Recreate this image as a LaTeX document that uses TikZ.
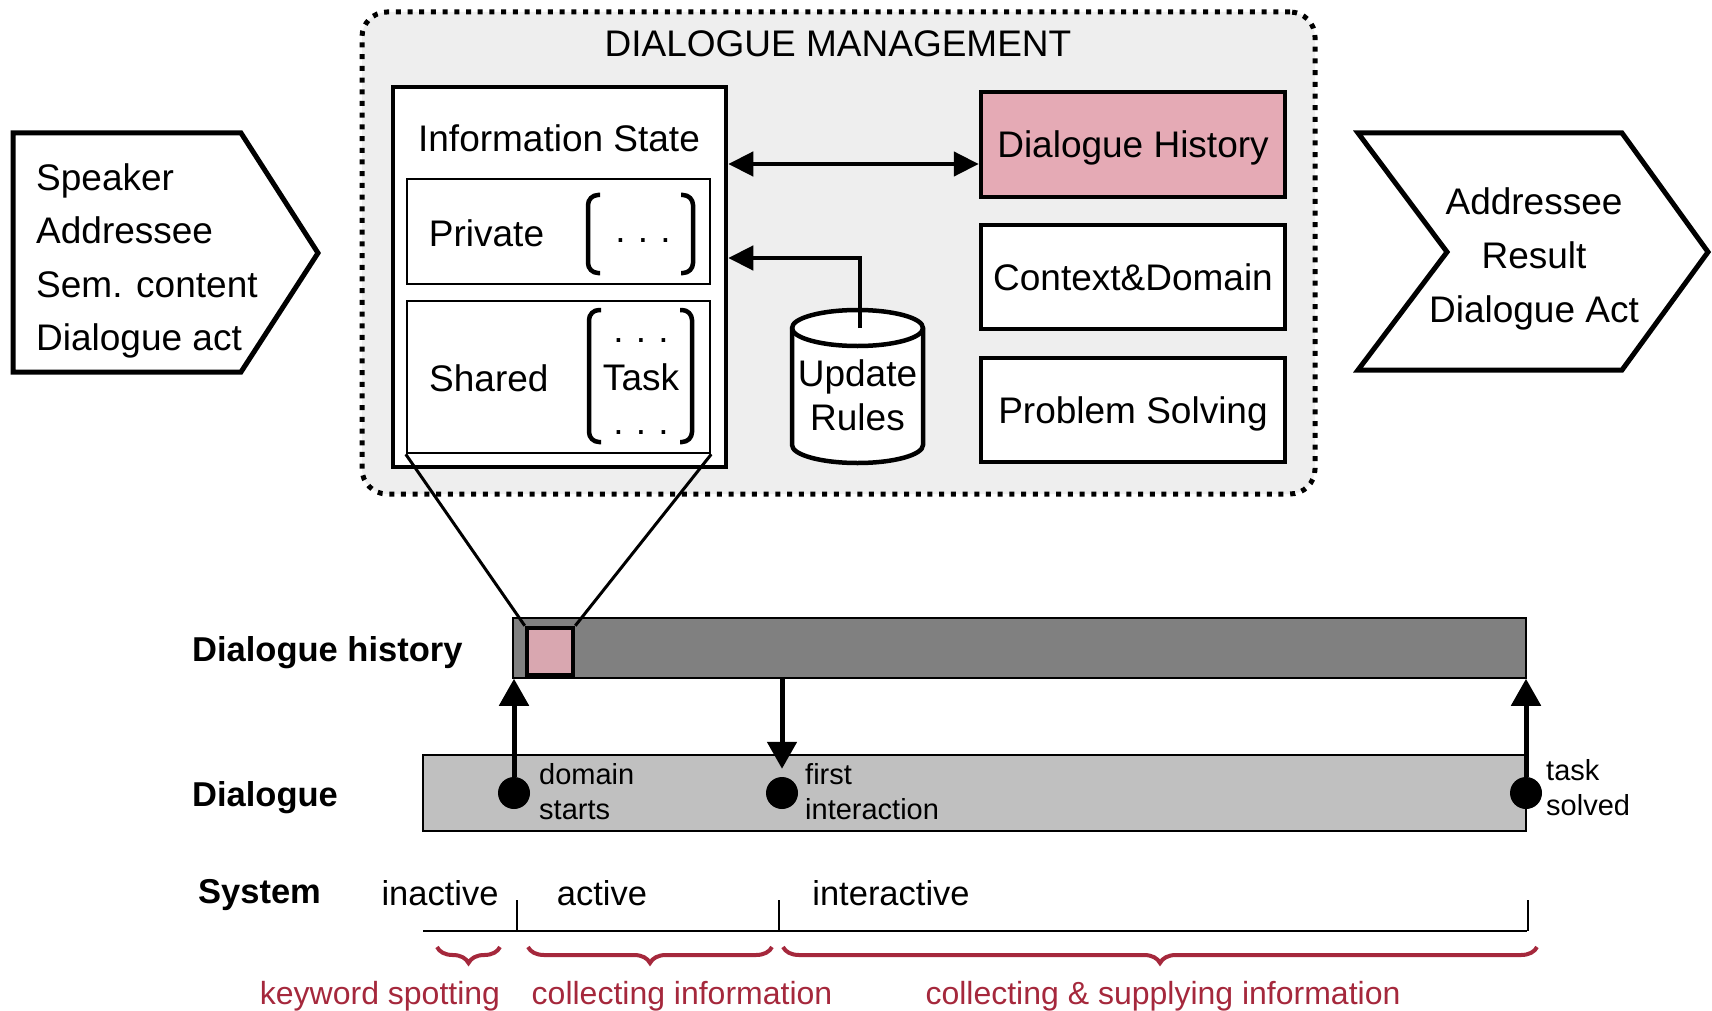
\documentclass[tikz,border=0pt]{standalone}
\usepackage{fontspec}
\setmainfont{Liberation Sans}
\usetikzlibrary{arrows.meta,decorations.pathreplacing}

\definecolor{dmgray}{HTML}{EEEEEE}
\definecolor{histpink}{HTML}{E5AAB5}
\definecolor{markpink}{HTML}{D9A7B0}
\definecolor{histbar}{HTML}{808080}
\definecolor{dlgbar}{HTML}{C0C0C0}
\definecolor{bracered}{HTML}{A5283C}

\begin{document}
\begin{tikzpicture}[x=1pt,y=-1pt,
    txt/.style={font=\fontsize{37}{44}\selectfont,inner sep=0pt},
    small/.style={font=\fontsize{29}{35}\selectfont,inner sep=0pt,align=left,anchor=west},
    rowlabel/.style={font=\fontsize{34.5}{40}\selectfont\bfseries,inner sep=0pt,anchor=west},
    state/.style={font=\fontsize{34.5}{40}\selectfont,inner sep=0pt},
    phase/.style={font=\fontsize{32}{38}\selectfont,inner sep=0pt,text=bracered},
    dmbox/.style={draw,line width=5pt,dash pattern=on 5pt off 6.7pt,rounded corners=25pt,fill=dmgray,inner sep=0pt},
    box/.style={draw,line width=4.5pt,fill=white,inner sep=0pt,text depth=0pt,minimum width=304,minimum height=105,font=\fontsize{37}{44}\selectfont},
    part/.style={draw,line width=2.5pt,fill=white,inner sep=0pt,minimum width=303},
    bar/.style={draw,line width=1.5pt,inner sep=0pt},
    dot/.style={circle,fill=black,inner sep=0pt,minimum size=32},
    chev/.style={line width=5pt,fill=white},
    brak/.style={line width=4.5pt,rounded corners=10pt},
    arr/.style={line width=4.5pt,-{Triangle[width=24pt,length=25pt]}},
    both/.style={line width=4.5pt,{Triangle[width=24pt,length=25pt]}-{Triangle[width=24pt,length=25pt]}},
    bigarr/.style={line width=5pt,-{Triangle[width=29pt,length=27pt]}},
    brace/.style={draw=bracered,line width=4pt,decorate,decoration={brace,mirror,amplitude=16pt}}]
    \useasboundingbox (0,0) rectangle (1712,1011);

    \draw[chev] (13,133) -- (241,133) -- (318,253) -- (241,372) -- (13,372) -- cycle;
    \node[txt,align=left,anchor=west,font=\fontsize{37}{53.5}\selectfont] (inlist) at (36,261) {Speaker\\Addressee\\Sem. content\\Dialogue act};
    \draw[chev] (1358,133) -- (1622,133) -- (1708,252) -- (1622,370) -- (1358,370) -- (1447,252) -- cycle;
    \node[txt,align=center,font=\fontsize{37}{54}\selectfont] (outlist) at (1534,259) {Addressee\\Result\\Dialogue Act};

    \node[dmbox,minimum width=953,minimum height=482] (dm) at (838.5,253) {};
    \node[txt] (title) at (838,44) {DIALOGUE MANAGEMENT};

    \node[box,minimum width=333,minimum height=380] (info) at (559.5,277) {};
    \node[txt] (infotitle) at (559,138) {Information State};
    \node[part,minimum height=105] (private) at (558.5,231.5) {};
    \node[part,minimum height=152] (shared) at (558.5,377) {};
    \node[txt] (privlabel) at (486.5,233) {Private};
    \node[txt,anchor=west] (sharlabel) at (429,378) {Shared};
    \draw[brak] (600,195) -- (588,195) -- (588,273) -- (600,273);
    \draw[brak] (681,195) -- (693,195) -- (693,273) -- (681,273);
    \node[txt] (privdots) at (643,241) {.\,\,.\,\,.};
    \draw[brak] (601,310) -- (589,310) -- (589,442) -- (601,442);
    \draw[brak] (680,310) -- (692,310) -- (692,442) -- (680,442);
    \node[txt] (topdots) at (641,341) {.\,\,.\,\,.};
    \node[txt] (task) at (641,377) {Task};
    \node[txt] (botdots) at (641,433) {.\,\,.\,\,.};

    \node[box,fill=histpink] (dh) at (1133,144.5) {Dialogue History};
    \node[box,minimum height=104] (cd) at (1133,277) {Context\&Domain};
    \node[box,minimum height=104] (ps) at (1133,410) {Problem Solving};

    \filldraw[fill=white,line width=4.5pt] (792,328) -- (792,445) arc[start angle=180,end angle=360,x radius=65.5pt,y radius=18pt] -- (923,328) arc[start angle=0,end angle=180,x radius=65.5pt,y radius=18pt] -- cycle;
    \draw[line width=4.5pt] (792,328) arc[start angle=180,end angle=360,x radius=65.5pt,y radius=18pt];
    \node[txt,align=center] (rules) at (857.5,395) {Update\\Rules};

    \coordinate (link) at (0,164);
    \coordinate (ruletop) at (860,328);
    \coordinate (ruleturn) at (860,258);
    \draw[both] (info.east |- link) -- (dh.west |- link);
    \draw[arr] (ruletop) -- (ruleturn) -- (info.east |- ruleturn);

    \node[bar,fill=histbar,minimum width=1013,minimum height=60] (hist) at (1019.5,648) {};
    \node[bar,fill=dlgbar,minimum width=1103,minimum height=76] (dlg) at (974.5,793) {};
    \node[draw,line width=4.5pt,fill=markpink,inner sep=0pt,minimum width=46,minimum height=47] (mark) at (550,651.5) {};
    \draw[line width=3pt] (shared.south west) -- (mark.north west);
    \draw[line width=3pt] (shared.south east) -- (mark.north east);

    \node[rowlabel] (histlabel) at (192,653) {Dialogue history};
    \node[rowlabel] (dlglabel) at (192,798) {Dialogue};
    \node[rowlabel] (syslabel) at (198,895) {System};

    \node[dot] (ds) at (514,793) {};
    \node[dot] (fi) at (782,793) {};
    \node[dot] (ts) at (1526,793) {};
    \draw[bigarr] (ds) -- (ds |- hist.south);
    \draw[bigarr,shorten >=8pt] (fi |- hist.south) -- (fi);
    \draw[bigarr] (ts) -- (ts |- hist.south);
    \node[small] (dslabel) at (539,791.5) {domain\\starts};
    \node[small] (filabel) at (805,791.5) {first\\interaction};
    \node[small] (tslabel) at (1546,787.5) {task\\solved};

    \node[state] (inactive) at (440,893) {inactive};
    \node[state] (active) at (602,893) {active};
    \node[state] (interactive) at (891,893) {interactive};
    \draw[line width=2pt] (423,931) -- (1527,931);
    \foreach \x in {517,779,1528}
        \draw[line width=1.5pt] (\x,900) -- (\x,931);

    \draw[brace] (437,947) -- (500,947);
    \draw[brace] (528,947) -- (772,947);
    \draw[brace] (783,947) -- (1537,947);
    \node[phase] (kwlabel) at (380,996) {keyword spotting};
    \node[phase] (cilabel) at (682,996) {collecting information};
    \node[phase] (cslabel) at (1163,996) {collecting \& supplying information};
\end{tikzpicture}
\end{document}
